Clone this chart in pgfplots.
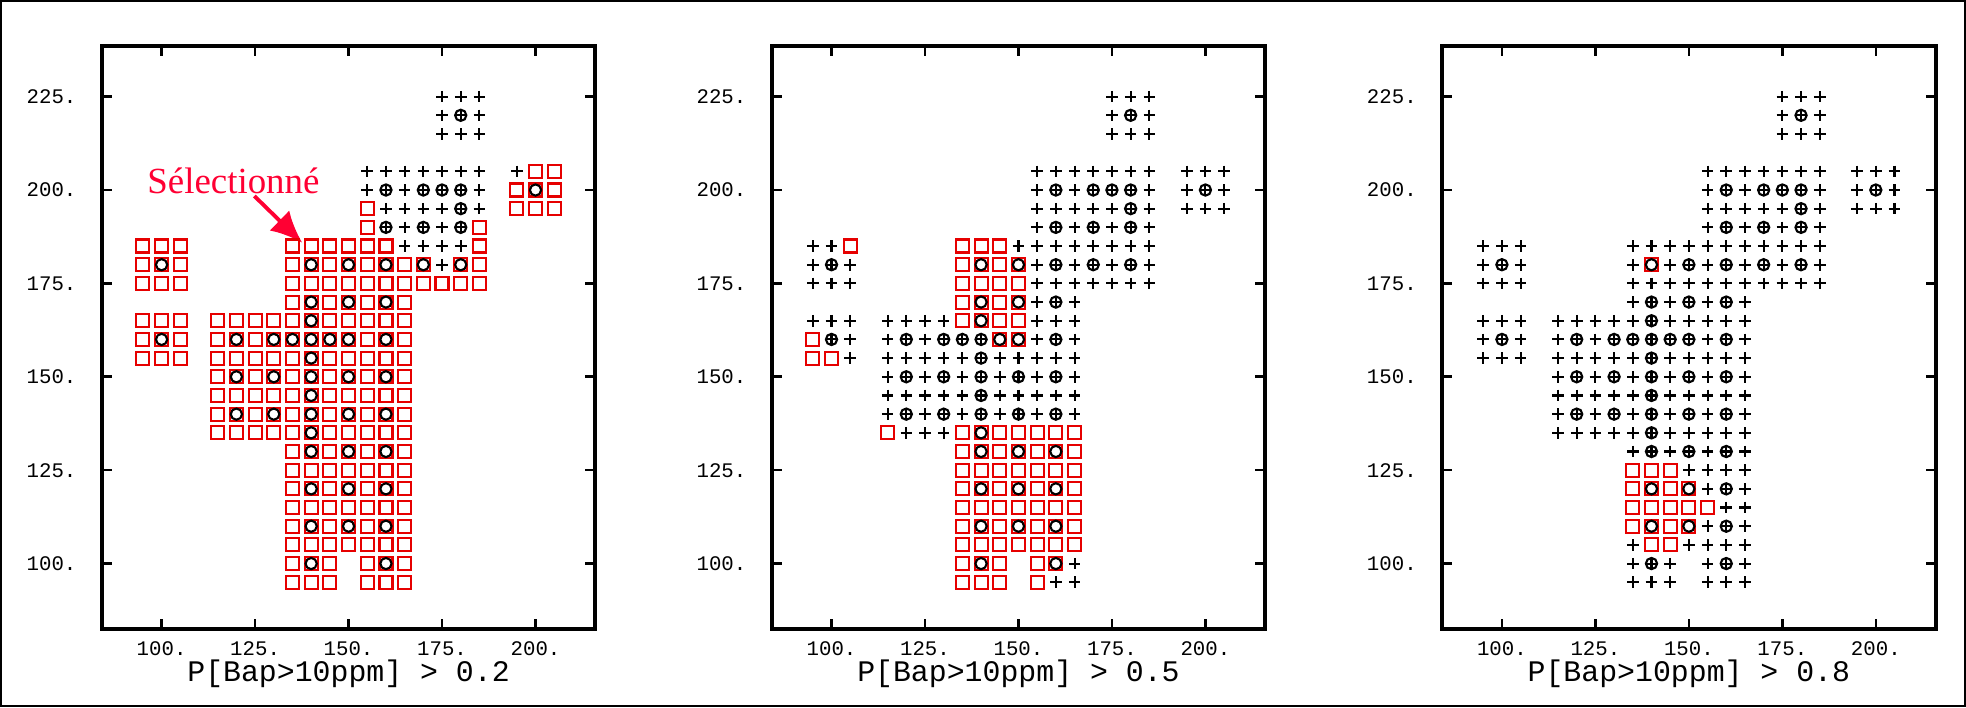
\documentclass[border=0pt]{standalone}
\usepackage{fontspec}
\setmainfont{Liberation Serif}
\setmonofont{Liberation Mono}
\usepackage{pgfplots}
\usepackage{pgfplotstable}
\pgfplotsset{compat=1.18}
\usetikzlibrary{arrows.meta}
\definecolor{selRed}{HTML}{E60000}
\definecolor{noteRed}{HTML}{FF0033}

% grid points: s1..s3 = selected in panel 1..3, c = observation point
\pgfplotstableread{
x y s1 s2 s3 c
175 225 0 0 0 0
180 225 0 0 0 0
185 225 0 0 0 0
175 220 0 0 0 0
180 220 0 0 0 1
185 220 0 0 0 0
175 215 0 0 0 0
180 215 0 0 0 0
185 215 0 0 0 0
155 205 0 0 0 0
160 205 0 0 0 0
165 205 0 0 0 0
170 205 0 0 0 0
175 205 0 0 0 0
180 205 0 0 0 0
185 205 0 0 0 0
195 205 0 0 0 0
200 205 1 0 0 0
205 205 1 0 0 0
155 200 0 0 0 0
160 200 0 0 0 1
165 200 0 0 0 0
170 200 0 0 0 1
175 200 0 0 0 1
180 200 0 0 0 1
185 200 0 0 0 0
195 200 1 0 0 0
200 200 1 0 0 1
205 200 1 0 0 0
155 195 1 0 0 0
160 195 0 0 0 0
165 195 0 0 0 0
170 195 0 0 0 0
175 195 0 0 0 0
180 195 0 0 0 1
185 195 0 0 0 0
195 195 1 0 0 0
200 195 1 0 0 0
205 195 1 0 0 0
155 190 1 0 0 0
160 190 0 0 0 1
165 190 0 0 0 0
170 190 0 0 0 1
175 190 0 0 0 0
180 190 0 0 0 1
185 190 1 0 0 0
95 185 1 0 0 0
100 185 1 0 0 0
105 185 1 1 0 0
135 185 1 1 0 0
140 185 1 1 0 0
145 185 1 1 0 0
150 185 1 0 0 0
155 185 1 0 0 0
160 185 1 0 0 0
165 185 0 0 0 0
170 185 0 0 0 0
175 185 0 0 0 0
180 185 0 0 0 0
185 185 1 0 0 0
95 180 1 0 0 0
100 180 1 0 0 1
105 180 1 0 0 0
135 180 1 1 0 0
140 180 1 1 1 1
145 180 1 1 0 0
150 180 1 1 0 1
155 180 1 0 0 0
160 180 1 0 0 1
165 180 1 0 0 0
170 180 1 0 0 1
175 180 0 0 0 0
180 180 1 0 0 1
185 180 1 0 0 0
95 175 1 0 0 0
100 175 1 0 0 0
105 175 1 0 0 0
135 175 1 1 0 0
140 175 1 1 0 0
145 175 1 1 0 0
150 175 1 1 0 0
155 175 1 0 0 0
160 175 1 0 0 0
165 175 1 0 0 0
170 175 1 0 0 0
175 175 1 0 0 0
180 175 1 0 0 0
185 175 1 0 0 0
135 170 1 1 0 0
140 170 1 1 0 1
145 170 1 1 0 0
150 170 1 1 0 1
155 170 1 0 0 0
160 170 1 0 0 1
165 170 1 0 0 0
95 165 1 0 0 0
100 165 1 0 0 0
105 165 1 0 0 0
115 165 1 0 0 0
120 165 1 0 0 0
125 165 1 0 0 0
130 165 1 0 0 0
135 165 1 1 0 0
140 165 1 1 0 1
145 165 1 1 0 0
150 165 1 1 0 0
155 165 1 0 0 0
160 165 1 0 0 0
165 165 1 0 0 0
95 160 1 1 0 0
100 160 1 0 0 1
105 160 1 0 0 0
115 160 1 0 0 0
120 160 1 0 0 1
125 160 1 0 0 0
130 160 1 0 0 1
135 160 1 0 0 1
140 160 1 0 0 1
145 160 1 1 0 1
150 160 1 1 0 1
155 160 1 0 0 0
160 160 1 0 0 1
165 160 1 0 0 0
95 155 1 1 0 0
100 155 1 1 0 0
105 155 1 0 0 0
115 155 1 0 0 0
120 155 1 0 0 0
125 155 1 0 0 0
130 155 1 0 0 0
135 155 1 0 0 0
140 155 1 0 0 1
145 155 1 0 0 0
150 155 1 0 0 0
155 155 1 0 0 0
160 155 1 0 0 0
165 155 1 0 0 0
115 150 1 0 0 0
120 150 1 0 0 1
125 150 1 0 0 0
130 150 1 0 0 1
135 150 1 0 0 0
140 150 1 0 0 1
145 150 1 0 0 0
150 150 1 0 0 1
155 150 1 0 0 0
160 150 1 0 0 1
165 150 1 0 0 0
115 145 1 0 0 0
120 145 1 0 0 0
125 145 1 0 0 0
130 145 1 0 0 0
135 145 1 0 0 0
140 145 1 0 0 1
145 145 1 0 0 0
150 145 1 0 0 0
155 145 1 0 0 0
160 145 1 0 0 0
165 145 1 0 0 0
115 140 1 0 0 0
120 140 1 0 0 1
125 140 1 0 0 0
130 140 1 0 0 1
135 140 1 0 0 0
140 140 1 0 0 1
145 140 1 0 0 0
150 140 1 0 0 1
155 140 1 0 0 0
160 140 1 0 0 1
165 140 1 0 0 0
115 135 1 1 0 0
120 135 1 0 0 0
125 135 1 0 0 0
130 135 1 0 0 0
135 135 1 1 0 0
140 135 1 1 0 1
145 135 1 1 0 0
150 135 1 1 0 0
155 135 1 1 0 0
160 135 1 1 0 0
165 135 1 1 0 0
135 130 1 1 0 0
140 130 1 1 0 1
145 130 1 1 0 0
150 130 1 1 0 1
155 130 1 1 0 0
160 130 1 1 0 1
165 130 1 1 0 0
135 125 1 1 1 0
140 125 1 1 1 0
145 125 1 1 1 0
150 125 1 1 0 0
155 125 1 1 0 0
160 125 1 1 0 0
165 125 1 1 0 0
135 120 1 1 1 0
140 120 1 1 1 1
145 120 1 1 1 0
150 120 1 1 1 1
155 120 1 1 0 0
160 120 1 1 0 1
165 120 1 1 0 0
135 115 1 1 1 0
140 115 1 1 1 0
145 115 1 1 1 0
150 115 1 1 1 0
155 115 1 1 1 0
160 115 1 1 0 0
165 115 1 1 0 0
135 110 1 1 1 0
140 110 1 1 1 1
145 110 1 1 1 0
150 110 1 1 1 1
155 110 1 1 0 0
160 110 1 1 0 1
165 110 1 1 0 0
135 105 1 1 0 0
140 105 1 1 1 0
145 105 1 1 1 0
150 105 1 1 0 0
155 105 1 1 0 0
160 105 1 1 0 0
165 105 1 1 0 0
135 100 1 1 0 0
140 100 1 1 0 1
145 100 1 1 0 0
155 100 1 1 0 0
160 100 1 1 0 1
165 100 1 0 0 0
135 95 1 1 0 0
140 95 1 1 0 0
145 95 1 1 0 0
155 95 1 1 0 0
160 95 1 0 0 0
165 95 1 0 0 0
}\grid

\pgfplotsset{
  grid panel/.style={
    scale only axis,
    width=49.4mm, height=58.4mm,
    anchor=south west,
    xmin=84, xmax=216, ymin=82.4, ymax=238.6,
    xtick={100,125,150,175,200},
    xticklabels={100.,125.,150.,175.,200.},
    ytick={100,125,150,175,200,225},
    yticklabels={100.,125.,150.,175.,200.,225.},
    axis line style={line width=1.1pt},
    tick align=inside,
    major tick length=1mm,
    tick style={line width=0.75pt, black},
    ticklabel style={font=\fontsize{5.9}{6}\selectfont\ttfamily},
    yticklabel style={xshift=-1.3mm},
    xlabel style={font=\fontsize{8.5}{9}\selectfont\ttfamily,
      at={(axis description cs:0.5,0)}, anchor=base, yshift=-5.2mm},
  },
  plus pts/.style={only marks, mark=+, mark size=1.65pt, black,
    mark options={line width=0.6pt}},
  sel pts/.style={only marks, mark=square, mark size=1.85pt, selRed,
    mark options={line width=0.6pt}},
  obs pts/.style={only marks, mark=o, mark size=1.6pt, black,
    mark options={line width=0.6pt}},
}

\begin{document}
\begin{tikzpicture}
  \draw[line width=0.5pt] (0,0) rectangle (196.6mm,-70.6mm);

  \begin{axis}[grid panel, at={(10.1mm,-62.9mm)}, xlabel={P[Bap>10ppm] > 0.2}]
    \addplot[plus pts, restrict expr to domain={\thisrow{s1}}{-0.5:0.5}] table[x=x,y=y] {\grid};
    \addplot[sel pts, restrict expr to domain={\thisrow{s1}}{0.5:1.5}] table[x=x,y=y] {\grid};
    \addplot[obs pts, restrict expr to domain={\thisrow{c}}{0.5:1.5}] table[x=x,y=y] {\grid};
    \node[noteRed, font=\fontsize{10.5}{12}\selectfont, anchor=base]
      at (axis cs:119.2,199) {Sélectionné};
    \draw[-{Latex[length=9pt,width=8pt]}, noteRed, line width=1.1pt]
      (axis cs:124.8,198.4) -- (axis cs:137.6,185.9);
  \end{axis}

  \begin{axis}[grid panel, at={(77.15mm,-62.9mm)}, xlabel={P[Bap>10ppm] > 0.5}]
    \addplot[plus pts, restrict expr to domain={\thisrow{s2}}{-0.5:0.5}] table[x=x,y=y] {\grid};
    \addplot[sel pts, restrict expr to domain={\thisrow{s2}}{0.5:1.5}] table[x=x,y=y] {\grid};
    \addplot[obs pts, restrict expr to domain={\thisrow{c}}{0.5:1.5}] table[x=x,y=y] {\grid};
  \end{axis}

  \begin{axis}[grid panel, at={(144.25mm,-62.9mm)}, xlabel={P[Bap>10ppm] > 0.8}]
    \addplot[plus pts, restrict expr to domain={\thisrow{s3}}{-0.5:0.5}] table[x=x,y=y] {\grid};
    \addplot[sel pts, restrict expr to domain={\thisrow{s3}}{0.5:1.5}] table[x=x,y=y] {\grid};
    \addplot[obs pts, restrict expr to domain={\thisrow{c}}{0.5:1.5}] table[x=x,y=y] {\grid};
  \end{axis}
\end{tikzpicture}
\end{document}
